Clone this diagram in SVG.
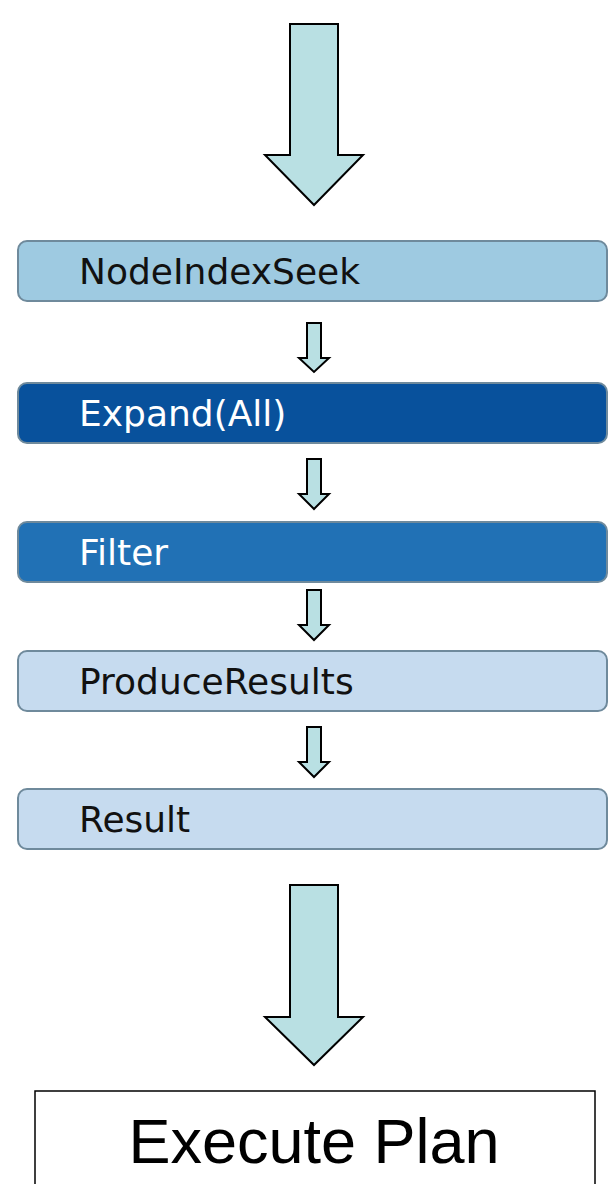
<svg xmlns="http://www.w3.org/2000/svg" width="608" height="1184" viewBox="0 0 608 1184">
<style>
.arrow{fill:#b9e0e3;stroke:#000;stroke-width:2;stroke-linejoin:miter}
.node rect{stroke:#6f8a9c;stroke-width:2}
.node text{font-family:"DejaVu Sans",Verdana,sans-serif;font-size:36px}
.dark text{fill:#ffffff}
.light text{fill:#111111}
.plan text{font-family:"Liberation Sans",Arial,sans-serif;font-size:63px;fill:#000}
</style>
<g id="connectors">
<polygon class="arrow" points="290,24 338,24 338,155 363,155 314,205 265,155 290,155"/>
<polygon class="arrow" points="307,323 321,323 321,358 329,358 314,372 299,358 307,358"/>
<polygon class="arrow" points="307,459 321,459 321,494 329,494 314,509 299,494 307,494"/>
<polygon class="arrow" points="307,590 321,590 321,625 329,625 314,640 299,625 307,625"/>
<polygon class="arrow" points="307,727 321,727 321,762 329,762 314,777 299,762 307,762"/>
<polygon class="arrow" points="290,885 338,885 338,1017 363,1017 314,1065 265,1017 290,1017"/>
</g>
<g id="node-nodeindexseek" class="node light">
<rect x="18" y="241" width="589" height="60" rx="9" fill="#9ecae1"/>
<text x="79" y="284">NodeIndexSeek</text>
</g>
<g id="node-expand" class="node dark">
<rect x="18" y="383" width="589" height="60" rx="9" fill="#08519c"/>
<text x="79" y="426">Expand(All)</text>
</g>
<g id="node-filter" class="node dark">
<rect x="18" y="522" width="589" height="60" rx="9" fill="#2171b5"/>
<text x="79" y="565">Filter</text>
</g>
<g id="node-produceresults" class="node light">
<rect x="18" y="651" width="589" height="60" rx="9" fill="#c6dbef"/>
<text x="79" y="694">ProduceResults</text>
</g>
<g id="node-result" class="node light">
<rect x="18" y="789" width="589" height="60" rx="9" fill="#c6dbef"/>
<text x="79" y="832">Result</text>
</g>
<g id="node-execute-plan" class="plan">
<rect x="35" y="1091" width="560" height="110" fill="#fff" stroke="#000" stroke-width="1.5"/>
<text x="314" y="1163" text-anchor="middle">Execute Plan</text>
</g>
</svg>
